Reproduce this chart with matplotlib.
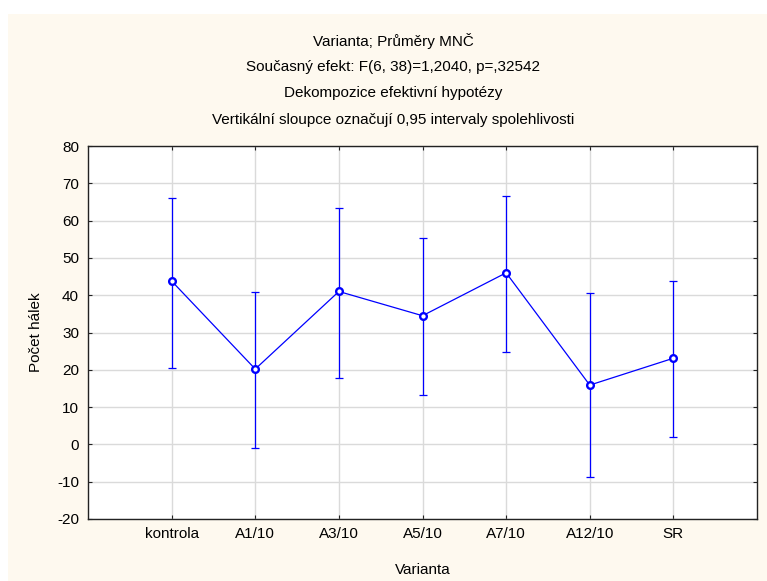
import numpy as np
import matplotlib
matplotlib.use("Agg")
import matplotlib.pyplot as plt
from matplotlib.patches import Rectangle

plt.rcParams["font.family"] = ["Liberation Sans", "DejaVu Sans"]
plt.rcParams["font.size"] = 11
plt.rcParams["axes.unicode_minus"] = False

# ===================== DATA =====================
categories = ["kontrola", "A1/10", "A3/10", "A5/10", "A7/10", "A12/10", "SR"]
means = [43.8, 20.2, 41.0, 34.5, 46.0, 15.9, 23.1]
upper = [66.0, 40.9, 63.3, 55.3, 66.6, 40.7, 43.9]
lower = [20.6, -1.0, 17.9, 13.2, 24.7, -8.8, 1.9]

title_lines = [
    "Varianta; Průměry MNČ",
    "Současný efekt: F(6, 38)=1,2040, p=,32542",
    "Dekompozice efektivní hypotézy",
    "Vertikální sloupce označují 0,95 intervaly spolehlivosti",
]

# ===================== FIGURE =====================
W, H = 767, 581
fig = plt.figure(figsize=(W / 100, H / 100), dpi=100, facecolor="white")
bg = "#FEF9EF"
fig.patches.append(Rectangle((8 / W, 0), 1 - 8 / W, 1 - 14 / H,
                             transform=fig.transFigure, facecolor=bg,
                             edgecolor="none", zorder=-10))

ax = fig.add_axes([88 / W, 1 - 519 / H, (757 - 88) / W, (519 - 146) / H])
ax.set_facecolor("white")

x = np.arange(len(categories))
means_a = np.array(means)
yerr = [means_a - np.array(lower), np.array(upper) - means_a]

ax.errorbar(x, means, yerr=yerr, fmt="none", ecolor="#0000FF",
            elinewidth=0.9, capsize=3, capthick=0.9, zorder=3)
ax.plot(x, means, color="#0000FF", linewidth=0.9, marker="o",
        markersize=4.8, markerfacecolor="white", markeredgecolor="#0000FF",
        markeredgewidth=1.7, zorder=4)

ax.set_xlim(-1, len(categories))
ax.set_ylim(-20, 80)
ax.set_xticks(x)
ax.set_xticklabels(categories)
ax.set_yticks(np.arange(-20, 81, 10))

ax.grid(True, color="#DADADA", linewidth=1.0)
ax.set_axisbelow(True)
ax.tick_params(direction="in", length=3, width=0.8, color="#222222",
               top=True, right=True, labelsize=11)
ax.tick_params(axis="x", pad=6)
ax.tick_params(axis="y", pad=6.5)
for s in ax.spines.values():
    s.set_color("#222222")
    s.set_linewidth(1.0)

ax.set_xlabel("Varianta", fontsize=11)
ax.xaxis.set_label_coords(0.5, (519 - 563) / 373)
ax.set_ylabel("Počet hálek", fontsize=11)
ax.yaxis.set_label_coords((43 - 88) / (757 - 88), 0.5)

baselines = [46, 71, 97, 124]
for line, yb in zip(title_lines, baselines):
    fig.text(393 / W, 1 - yb / H, line, ha="center", va="baseline",
             fontsize=11)

fig.savefig("out.png", dpi=100, facecolor=fig.get_facecolor())
